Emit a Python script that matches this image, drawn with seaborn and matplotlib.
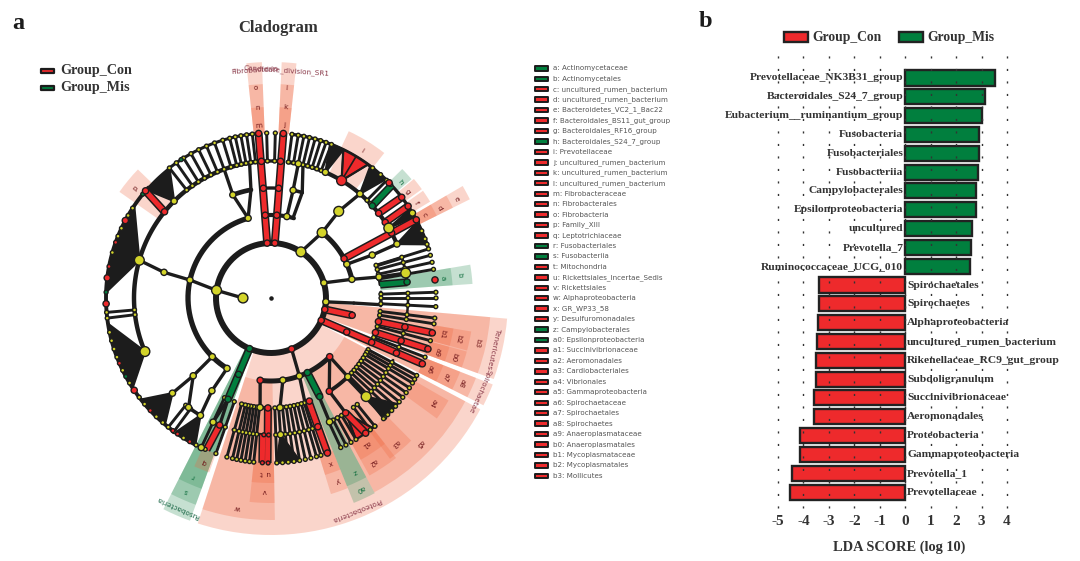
import numpy as np
import pandas as pd
import matplotlib
matplotlib.use("Agg")
import matplotlib.pyplot as plt
from matplotlib.patches import Rectangle
import seaborn as sns

# ---------- LDA bar data ----------
taxa_mis = ["Prevotellaceae_NK3B31_group", "Bacteroidales_S24_7_group", "Eubacterium__ruminantium_group",
            "Fusobacteria", "Fusobacteriales", "Fusobacteriia", "Campylobacterales", "Epsilonproteobacteria",
            "uncultured", "Prevotella_7", "Ruminococcaceae_UCG_010"]
lda_mis = [3.51, 3.15, 3.01, 2.89, 2.89, 2.87, 2.80, 2.80, 2.62, 2.58, 2.53]
taxa_con = ["Spirochaetales", "Spirochaetes", "Alphaproteobacteria", "uncultured_rumen_bacterium",
            "Rikenellaceae_RC9_gut_group", "Subdoligranulum", "Succinivibrionaceae", "Aeromonadales",
            "Proteobacteria", "Gammaproteobacteria", "Prevotella_1", "Prevotellaceae"]
lda_con = [-3.39, -3.39, -3.44, -3.47, -3.49, -3.52, -3.59, -3.59, -4.12, -4.15, -4.44, -4.52]
x_ticks = [-5, -4, -3, -2, -1, 0, 1, 2, 3, 4]

# ---------- cladogram key ----------
key_labels = ["a: Actinomycetaceae", "b: Actinomycetales", "c: uncultured_rumen_bacterium",
              "d: uncultured_rumen_bacterium", "e: Bacteroidetes_VC2_1_Bac22", "f: Bacteroidales_BS11_gut_group",
              "g: Bacteroidales_RF16_group", "h: Bacteroidales_S24_7_group", "i: Prevotellaceae",
              "j: uncultured_rumen_bacterium", "k: uncultured_rumen_bacterium", "l: uncultured_rumen_bacterium",
              "m: Fibrobacteraceae", "n: Fibrobacterales", "o: Fibrobacteria", "p: Family_XIII",
              "q: Leptotrichiaceae", "r: Fusobacteriales", "s: Fusobacteriia", "t: Mitochondria",
              "u: Rickettsiales_Incertae_Sedis", "v: Rickettsiales", "w: Alphaproteobacteria", "x: GR_WP33_58",
              "y: Desulfuromonadales", "z: Campylobacterales", "a0: Epsilonproteobacteria",
              "a1: Succinivibrionaceae", "a2: Aeromonadales", "a3: Cardiobacteriales", "a4: Vibrionales",
              "a5: Gammaproteobacteria", "a6: Spirochaetaceae", "a7: Spirochaetales", "a8: Spirochaetes",
              "a9: Anaeroplasmataceae", "b0: Anaeroplasmatales", "b1: Mycoplasmataceae", "b2: Mycoplasmatales",
              "b3: Mollicutes"]
key_green = {"a", "b", "h", "r", "s", "z", "a0"}

# ---------- cladogram tree (angles: degrees clockwise from top; levels: rings) ----------
level_radius = [28, 55, 83, 110, 137, 165]

# sectors: start, end, inner radius, outer radius, group
sectors = [
    (118, 198, 55, 237, "R"), (118, 152, 83, 220, "R"), (179, 198, 83, 222, "R"),
    (142, 151, 137, 203, "R"), (142, 151, 165, 185, "R"), (135.5, 143.5, 165, 200, "R"), (120, 126, 165, 205, "R"),
    (158, 163, 110, 205, "R"), (158, 163, 165, 185, "R"), (179, 186, 110, 205, "R"), (179, 186, 165, 185, "R"),
    (95, 110, 55, 237, "R"), (95, 110, 55, 220, "R"), (99.5, 105, 165, 203, "R"), (99.5, 105, 165, 185, "R"),
    (105.3, 110, 165, 203, "R"), (105.3, 110, 165, 185, "R"),
    (111.3, 116.8, 55, 238, "R"), (111.3, 116.8, 55, 220, "R"), (111.3, 116.8, 165, 203, "R"), (111.3, 116.8, 165, 185, "R"),
    (200, 207, 55, 237, "G"), (200, 207, 55, 220, "G"), (200, 207, 55, 203, "G"), (199.5, 204.5, 165, 185, "R"),
    (152, 158, 83, 221, "G"), (152, 158, 83, 203, "G"),
    (59.7, 63.6, 165, 222, "R"), (59.7, 63.6, 165, 203, "R"), (59.7, 63.6, 165, 185, "R"),
    (54.8, 58.8, 165, 186, "R"), (50.2, 54.2, 165, 186, "R"), (45.5, 49.8, 165, 184, "G"),
    (25, 38, 137, 184, "R"), (305, 314, 137, 185, "R"),
    (80.5, 86, 110, 202, "G"), (80.5, 86, 110, 182, "G"),
    (-6, -2.2, 165, 236, "R"), (-6, -2.2, 165, 214, "R"), (-6, -2.2, 165, 191, "R"),
    (2.6, 6.2, 165, 236, "R"), (2.6, 6.2, 165, 214, "R"), (2.6, 6.2, 165, 191, "R"),
]

# arcs: level, start, end, width
arcs = [
    (1, 0, 360, 4.3), (2, 212, 344, 3.8), (2, -4, 16, 3.0), (2, 38, 77, 3.6), (2, 135, 187.5, 3.6),
    (3, 339.7, 349.5, 3.4), (3, -4, 4, 2.4), (3, 11.6, 16.5, 2.6), (3, 73, 83, 2.4), (3, 87, 94, 2.4),
    (3, 97, 102.6, 2.4), (3, 105, 113.5, 2.4), (3, 118, 136, 2.8), (3, 136, 148, 2.8), (3, 159, 178, 2.6),
    (3, 181.6, 195.5, 2.6), (4, 247, 355, 3.2), (4, -4, 4, 2.4), (4, 7, 67, 3.0), (4, 73, 83.3, 2.0),
    (4, 88, 99, 1.8), (4, 102, 114, 1.8), (4, 117, 136, 2.0), (4, 147, 155, 2.4), (4, 160, 163, 2.0),
    (4, 164, 178, 2.4), (4, 181, 196, 2.4), (4, 199.5, 205, 2.0), (4, 211, 217, 2.6),
    (5, 207, 312, 2.8), (5, 322, 356, 2.2), (5, 7, 72, 2.4),
]

# black branches: angle from, level from, angle to, level to
branches = [
    (270, 0, 278, 1), (278, 1, 282.5, 2), (282.5, 2, 283.5, 3), (283.5, 3, 286, 4),
    (225, 2, 225, 3), (225, 3, 226, 4), (212, 2, 212.5, 3), (212.5, 3, 211, 4), (225, 3, 217, 4),
    (344, 2, 339.7, 3), (344, 2, 349.5, 3), (339.7, 3, 340, 4), (349.5, 3, 351, 4),
    (33, 1, 38, 2), (38, 2, 38, 3), (38, 3, 40.5, 4), (11, 2, 11.6, 3), (15.4, 2, 16.5, 3),
    (11.6, 3, 11.5, 4), (16.5, 3, 13.5, 4), (66, 2, 67, 3), (67, 3, 66.8, 4), (74, 1, 77, 2), (77, 2, 79, 3),
    (79, 3, 79.5, 4), (73, 3, 73, 4), (94, 1, 93.5, 2), (93.5, 2, 93.5, 3), (136, 3, 136, 4), (148, 3, 147, 4),
    (135, 2, 135.7, 3), (160, 2, 162, 3), (171.8, 2, 175.3, 3), (187.5, 2, 185.7, 3), (158, 1, 160, 2),
    (203, 3, 205, 4), (203, 3, 202, 4), (154, 3, 154.7, 4), (135, 2, 148, 3),
]

# leaf lines that end on the outer ring: first level, list of angles
leaf_from_4 = [322, 325, 328, 331, 334, 337, 340, 343, 345.5, 347.5, 349.5, 351.5, 353.5,
               -1.5, 1.5, 7.3, 9.5, 11.5, 13.5, 15.5, 17.5, 19.5, 21.5, 44.5, 46.5,
               141, 143, 149, 151, 153, 155, 263, 265, 216, 218.5]
leaf_from_3 = [72.7, 75, 77.5, 80, 88, 90, 93, 97, 99, 105, 111, 118, 119.5, 121, 123, 125, 127, 129, 131,
               133, 135, 136.5, 162.4, 164, 166, 168, 170, 172, 174, 176, 178, 186, 187.5, 189, 190.5, 192, 193.5,
               195.5, 199.5, 205]

# filled leaf fans: apex angle, apex level, outer start, outer end, group
fans = [
    (286, 4, 272, 304, "K"), (247, 4, 237, 261, "K"), (226, 4, 220, 232, "K"), (211, 4, 207.3, 215.4, "K"),
    (315, 4, 311, 322, "K"), (23.4, 4, 21, 26, "K"), (31, 4, 26, 36, "R"), (40.5, 4, 37, 44, "K"),
    (59.3, 4, 57.5, 60.5, "K"), (66.8, 4, 62.5, 71, "K"), (136, 4, 130, 137, "K"), (147, 4, 142, 149, "R"),
    (176, 4, 170, 178, "K"),
]

# coloured thick branches: angle from, level from, angle to, level to, group
colored = [
    (-4, 1, -4.3, 5, "R"), (4, 1, 4.3, 5, "R"), (61.7, 2, 61.7, 5, "R"), (51.8, 4, 52.4, 5, "R"),
    (56.5, 4, 56.2, 5, "R"), (309, 4, 310.5, 5, "R"), (102, 1, 102, 2, "R"), (102.4, 3, 102.2, 5, "R"),
    (108.3, 3, 108, 5, "R"), (114, 1, 113.5, 5, "R"), (147, 4, 145, 5, "R"), (160, 3, 160, 5, "R"),
    (181.6, 3, 181.2, 5, "R"), (183.5, 4, 183, 5, "R"), (202, 4, 203, 5, "R"),
    (203, 1, 203, 3, "G"), (154, 2, 153.7, 3, "G"), (83, 3, 83.4, 4, "G"), (47.7, 4, 47, 5, "G"),
]

# notable nodes: angle, level, size class, group
nodes_big = [(270, 0, "Y"), (278, 1, "Y"), (286, 4, "Y"), (247, 4, "Y"), (33, 1, "Y"), (38, 2, "Y"), (38, 3, "Y"),
             (59.3, 4, "Y"), (79.5, 4, "Y"), (136, 4, "Y"), (31, 4, "R")]
nodes_mid = [(282.5, 2, "Y"), (283.5, 3, "Y"), (225, 2, "Y"), (225, 3, "Y"), (226, 4, "Y"), (212, 2, "Y"), (212.5, 3, "Y"),
             (211, 4, "Y"), (217, 4, "Y"), (315, 4, "Y"), (339.7, 3, "Y"), (344, 2, "Y"), (11, 2, "Y"), (11.6, 3, "Y"),
             (11.5, 4, "Y"), (40.5, 4, "Y"), (23.4, 4, "Y"), (66.8, 4, "Y"), (67, 3, "Y"), (66, 2, "Y"), (77, 2, "Y"),
             (74, 1, "Y"), (79, 3, "Y"), (94, 1, "Y"), (135.7, 3, "Y"), (160, 2, "Y"), (171.8, 2, "Y"), (175.3, 3, "Y"),
             (176, 4, "Y"), (185.7, 3, "Y"), (205, 4, "Y"), (205, 5, "Y"), (154.7, 4, "Y"), (59, 5, "Y"),
             (-4, 1, "R"), (-4, 2, "R"), (-4, 3, "R"), (-4, 4, "R"), (-4.3, 5, "R"), (4, 1, "R"), (4, 2, "R"), (4, 3, "R"),
             (4, 4, "R"), (4.3, 5, "R"), (310.5, 5, "R"), (309, 4, "R"), (45.7, 5, "R"), (51.8, 4, "R"), (52.4, 5, "R"),
             (56.5, 4, "R"), (56.2, 5, "R"), (61.7, 2, "R"), (61.7, 4, "R"), (61.7, 5, "R"), (83.7, 5, "R"),
             (102, 1, "R"), (102, 2, "R"), (102.4, 3, "R"), (102.2, 4, "R"), (102.2, 5, "R"), (108.3, 3, "R"), (108.2, 4, "R"),
             (108, 5, "R"), (114, 1, "R"), (114.2, 2, "R"), (113.8, 3, "R"), (113.7, 4, "R"), (113.5, 5, "R"),
             (158, 1, "R"), (135, 2, "R"), (148, 3, "R"), (147, 4, "R"), (145, 5, "R"), (159.6, 3, "R"), (160, 4, "R"),
             (160, 5, "R"), (187.5, 2, "R"), (181.6, 3, "R"), (202, 4, "R"), (236, 5, "R"), (268, 5, "R"), (277, 5, "R"),
             (298, 5, "R"), (203, 1, "G"), (203, 2, "G"), (203, 3, "G"), (154, 2, "G"), (153.7, 3, "G"), (47.7, 4, "G"),
             (83.3, 4, "G")]
nodes_small = [(281, 5, "R"), (289.7, 5, "R"), (246.7, 5, "R"), (227, 5, "R"), (216.5, 5, "R"), (214.5, 5, "R"),
               (209.5, 5, "R"), (183, 4, "R"), (183, 5, "R"), (181, 4, "R"), (181, 5, "R"), (272, 5, "G"), (241.6, 5, "G"),
               (309, 5, "G"), (327, 5, "G"), (300, 5, "Y"), (303, 5, "Y"), (295, 5, "Y"), (292, 5, "Y"), (286, 5, "Y"),
               (258, 5, "Y"), (255, 5, "Y"), (252, 5, "Y"), (249, 5, "Y"), (244, 5, "Y"), (239, 5, "Y"), (233, 5, "Y"),
               (230, 5, "Y"), (224, 5, "Y"), (221, 5, "Y"), (212, 5, "Y"), (207, 5, "Y"), (66, 5, "Y"), (69, 5, "Y"),
               (62.5, 5, "Y"), (71, 5, "Y"), (41.6, 5, "Y"), (38, 5, "Y"), (141, 5, "Y"), (137, 5, "Y"), (203.5, 5, "Y")]

# sector letters: text, angle, radius, group
letters = [("a", 83.4, 173, "G"), ("b", 83.2, 190, "G"), ("c", 61.5, 174, "R"), ("d", 61.8, 191, "R"), ("e", 61.8, 210, "R"),
           ("f", 56.8, 173, "R"), ("g", 52, 173, "R"), ("h", 48, 173.5, "G"), ("i", 31.8, 173, "R"),
           ("j", 4.3, 173, "R"), ("k", 4.3, 191, "R"), ("l", 4.3, 211, "R"), ("m", -4.1, 173, "R"), ("n", -4.1, 191, "R"),
           ("o", -4.1, 211, "R"), ("p", 309, 175, "R"), ("q", 202, 177, "R"), ("r", 203.5, 194, "G"), ("s", 203.8, 211, "G"),
           ("t", 183.3, 175, "R"), ("u", 181, 175, "R"), ("v", 182, 193, "R"), ("w", 189, 212, "R"), ("x", 160, 175, "R"),
           ("y", 160, 194, "R"), ("z", 154.2, 193, "G"), ("a0", 154.8, 211, "G"), ("a1", 147, 174, "R"), ("a2", 148, 193, "R"),
           ("a3", 139.5, 191, "R"), ("a4", 123, 193, "R"), ("a5", 134.4, 208, "R"), ("a6", 114, 174, "R"), ("a7", 114.3, 192, "R"),
           ("a8", 114, 209, "R"), ("a9", 108, 175, "R"), ("b0", 108, 192, "R"), ("b1", 102, 175, "R"), ("b2", 102.3, 192, "R"),
           ("b3", 102.3, 211, "R")]

# phylum labels: text, angle, radius, group
phyla = [("Fibrobacteria", -4, 228, "R"), ("Candidate_division_SR1", 4, 228, "R"), ("Tenericutes", 102.7, 228, "R"),
         ("Spirochaetae", 114, 228, "R"), ("Proteobacteria", 158, 228, "R"), ("Fusobacteria", 204, 229, "G")]

# ---------- style ----------
RED = "#ee2a2c"
GREEN = "#017f3e"
YELLOW = "#d3d42a"
INK = "#1c1c1c"
group_color = {"R": RED, "G": GREEN, "Y": YELLOW, "K": INK}
sector_color = {"R": "#f0673f", "G": "#2f8f57"}
letter_color = {"R": "#6e1518", "G": "#0a6b3a"}
phylum_color = {"R": "#8a3a4a", "G": "#1f6a4a"}
SERIF = "Liberation Serif"

sns.set_theme(style="white")
W, H = 1080, 561
fig = plt.figure(figsize=(W / 100, H / 100), dpi=100, facecolor="white")


def box(l, t, r, b):
    return [l / W, 1 - b / H, (r - l) / W, (b - t) / H]


# ---------- panel a: cladogram on polar axes; 1 data unit = 1 px ----------
cx, cy, rmax = 271, 298, 240
pax = fig.add_axes(box(cx - rmax, cy - rmax, cx + rmax, cy + rmax), projection="polar")
pax.set_theta_zero_location("N")
pax.set_theta_direction(-1)
pax.set_axis_off()
pax.patch.set_alpha(0)


def rad(a):
    return np.radians(a)


for a0, a1, r0, r1, g in sectors:
    pax.bar(rad((a0 + a1) / 2), r1 - r0, width=rad(a1 - a0), bottom=r0, color=sector_color[g], alpha=0.27,
            linewidth=0, zorder=1)

for lev, a0, a1, lw in arcs:
    th = rad(np.linspace(a0, a1, max(int(abs(a1 - a0)) + 2, 4)))
    pax.plot(th, np.full_like(th, level_radius[lev]), color=INK, lw=lw, solid_capstyle="round", zorder=2)

for a0, l0, a1, l1 in branches:
    pax.plot(rad([a0, a1]), [level_radius[l0], level_radius[l1]], color=INK, lw=2.4, zorder=2)

leaf_rows = []
for first, angles in ((4, leaf_from_4), (3, leaf_from_3)):
    for a in angles:
        pax.plot(rad([a, a]), [level_radius[first], level_radius[5]], color=INK, lw=2.1, zorder=2)
        for lev in range(first, 6):
            leaf_rows.append((a, lev, "Y"))

for a, lev, a0, a1, g in fans:
    th = np.concatenate([[a], np.linspace(a0, a1, max(int(a1 - a0) * 2, 3)), [a]])
    rr = np.concatenate([[level_radius[lev]], np.full(len(th) - 2, level_radius[5]), [level_radius[lev]]])
    pax.fill(rad(th), rr, color=group_color[g], edgecolor=INK, lw=1.6, zorder=2.5)
    if g == "R":
        for e in (a0, (a0 + a1) / 2, a1):
            pax.plot(rad([a, e]), [level_radius[lev], level_radius[5]], color=INK, lw=1.2, zorder=2.6)

for a0, l0, a1, l1, g in colored:
    pax.plot(rad([a0, a1]), [level_radius[l0], level_radius[l1]], color=INK, lw=5.8, solid_capstyle="butt", zorder=3)
    pax.plot(rad([a0, a1]), [level_radius[l0], level_radius[l1]], color=group_color[g], lw=3.6, solid_capstyle="butt",
             zorder=3.1)

node_rows = ([(a, l, "small", g) for a, l, g in leaf_rows] +
             [(a, l, "small", g) for a, l, g in nodes_small] +
             [(a, l, "mid", g) for a, l, g in nodes_mid] +
             [(a, l, "big", g) for a, l, g in nodes_big])
node_df = pd.DataFrame(node_rows, columns=["angle", "level", "size", "group"])
node_df["theta"] = rad(node_df["angle"])
node_df["r"] = [level_radius[l] for l in node_df["level"]]
sns.scatterplot(data=node_df, x="theta", y="r", hue="group", palette=group_color, size="size",
                sizes={"small": 8, "mid": 20, "big": 50}, edgecolor=INK, linewidth=1.0, legend=False, ax=pax, zorder=4)

pax.scatter([0], [0], s=5, color=INK, zorder=4)
pax.set_ylim(0, rmax)
pax.set_xlabel("")
pax.set_ylabel("")

for t, a, r, g in letters:
    pax.text(rad(a), r, t, rotation=-a, rotation_mode="anchor", ha="center", va="center", fontsize=5.2,
             color=letter_color[g], zorder=5, family="DejaVu Sans", clip_on=False)
for t, a, r, g in phyla:
    pax.text(rad(a), r, t, rotation=-a, rotation_mode="anchor", ha="center", va="center", fontsize=5.2,
             color=phylum_color[g], zorder=5, family="DejaVu Sans", clip_on=False)

# ---------- overlay for titles and keys ----------
ov = fig.add_axes([0, 0, 1, 1], zorder=-1)
ov.set_xlim(0, W)
ov.set_ylim(H, 0)
ov.set_axis_off()


def swatch(x, y, w, h, color, lw=1.6):
    ov.add_patch(Rectangle((x, y - h / 2), w, h, fc=color, ec=INK, lw=lw, joinstyle="round"))


ov.text(18, 23, "a", family=SERIF, weight="bold", fontsize=17.5, ha="center", va="center", color=INK)
ov.text(705, 21, "b", family=SERIF, weight="bold", fontsize=17.5, ha="center", va="center", color=INK)
ov.text(278, 28, "Cladogram", family=SERIF, weight="bold", fontsize=12, ha="center", va="center", color="#333333")
for y, col, t in ((70, RED, "Group_Con"), (87, GREEN, "Group_Mis")):
    swatch(41, y + 1, 13, 4.6, col)
    ov.text(60, y, t, family=SERIF, weight="bold", fontsize=10.2, ha="left", va="center", color="#333333")

key_top, key_step = 68.3, 10.45
for i, lab in enumerate(key_labels):
    y = key_top + i * key_step
    prefix = lab.split(":")[0]
    swatch(534.5, y, 13, 4.4, GREEN if prefix in key_green else RED, lw=1.4)
    ov.text(553, y, lab, family="DejaVu Sans", fontsize=5.1, ha="left", va="center", color="#555555")

# ---------- panel b: LDA bars ----------
df = pd.DataFrame({
    "taxon": taxa_mis + taxa_con,
    "score": lda_mis + lda_con,
    "group": ["Group_Mis"] * len(taxa_mis) + ["Group_Con"] * len(taxa_con),
})
first_y, step_y = 78.0, 18.82
top_px, bot_px = 53.0, 508.0
bax = fig.add_axes(box(778, top_px, 1007, bot_px))
sns.barplot(data=df, y="taxon", x="score", hue="group", hue_order=["Group_Con", "Group_Mis"],
            order=df["taxon"].tolist(), palette={"Group_Con": RED, "Group_Mis": GREEN}, dodge=False, width=0.8,
            saturation=1, edgecolor="#222222", linewidth=1.7, ax=bax)
bax.set_xlim(-5, 4)
bax.set_ylim((bot_px - first_y) / step_y, (top_px - first_y) / step_y)
sns.despine(ax=bax, left=True, bottom=True, top=True, right=True)
bax.patch.set_alpha(0)
bax.set_yticks([])
bax.set_ylabel("")
bax.set_xticks(x_ticks)
bax.set_xticklabels([str(v) for v in x_ticks], family=SERIF, weight="bold", fontsize=11, color="#333333")
bax.tick_params(axis="x", length=0, pad=5)
bax.set_xlabel("LDA SCORE (log 10)", family=SERIF, weight="bold", fontsize=10.4, color="#333333")
bax.xaxis.set_label_coords((899 - 778) / 229, -(547 - bot_px) / (bot_px - top_px), transform=bax.transAxes)
bax.xaxis.label.set_va("center")
for v in x_ticks:
    bax.axvline(v, color="#333333", lw=1.0, ls=(0, (1.5, 7.5)), zorder=6, clip_on=False)
for i, (t, v) in enumerate(zip(df["taxon"], df["score"])):
    if v > 0:
        bax.text(-0.07, i, t, ha="right", va="center", family=SERIF, weight="bold", fontsize=8.25, color="#333333", zorder=5)
    else:
        bax.text(0.07, i, t, ha="left", va="center", family=SERIF, weight="bold", fontsize=8.25, color="#333333", zorder=5)

sns.move_legend(bax, "center", bbox_to_anchor=(889 / W, 1 - 38 / H), bbox_transform=fig.transFigure, ncol=2,
                frameon=False, title=None, handlelength=1.8, handleheight=0.8, handletextpad=0.3, columnspacing=1.25,
                prop={"family": SERIF, "weight": "bold", "size": 9.8}, labelcolor="#333333")

fig.savefig("out.png", dpi=100, facecolor="white")
